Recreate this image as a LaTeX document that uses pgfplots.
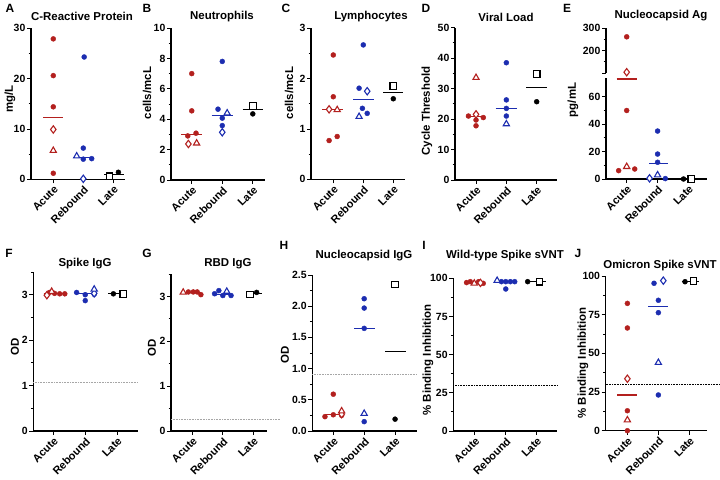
\documentclass[border=0pt]{standalone}
\usepackage{pgfplots}
\pgfplotsset{compat=1.18}
\usepackage{fontspec}
\setmainfont{Liberation Sans}
\definecolor{cR}{HTML}{B3201E}
\definecolor{cB}{HTML}{1C2DB0}
\newcommand{\tfont}{\bfseries\fontsize{11.5}{13}\selectfont}
\newcommand{\lfont}{\bfseries\fontsize{12}{14}\selectfont}

\pgfplotsset{
  panel/.style={scale only axis, clip=false, axis lines=left,
    axis line style={line width=1.1pt,-},
    every tick/.style={black,line width=0.9pt}, tick align=outside,
    major tick length=4pt, minor tick length=2.4pt, minor y tick num=1,
    xtick={1,2,3}, xticklabels={Acute,Rebound,Late},
    xticklabel style={rotate=45, anchor=north east, inner sep=1pt,
      font=\bfseries\fontsize{11}{12}\selectfont},
    yticklabel style={font=\bfseries\fontsize{10.5}{12}\selectfont, inner sep=1.5pt},
    /pgf/number format/assume math mode=true, anchor=south west},
  dot/.style={only marks, mark=*, mark size=2.5pt, color=#1},
  tri/.style={only marks, mark=triangle*, mark size=3.6pt, color=#1,
    mark options={fill=white, line width=1.1pt}},
  dia/.style={only marks, mark=diamond*, mark size=3.7pt, color=#1,
    mark options={fill=white, line width=1.1pt}},
  sq/.style={only marks, mark=square*, mark size=3.3pt, color=black,
    mark options={fill=white, line width=1.1pt}},
  med/.style={no marks, line width=1.2pt, color=#1},
  thr/.style={no marks, line width=0.7pt, color=#1, dash pattern=on 0.8pt off 0.8pt},
}

\begin{document}
\begin{tikzpicture}
\path[use as bounding box] (0,0) rectangle (720bp,-480bp);

% ---------- A: C-Reactive Protein
\begin{axis}[panel, at={(31bp,-179.3bp)}, width=94bp, height=151bp,
  xmin=0.257, xmax=3.39, ymin=0, ymax=30, ytick={0,10,20,30}]
\addplot[med=cR] coordinates {(0.67,12.2)(1.33,12.2)};
\addplot[med=cB] coordinates {(1.67,4.4)(2.36,4.4)};
\addplot[med=black] coordinates {(2.69,1.0)(3.36,1.0)};
\addplot[dot=cR] coordinates {(1,27.9)(1,20.6)(1,14.4)(1,1.2)};
\addplot[dia=cR] coordinates {(1,9.9)};
\addplot[tri=cR] coordinates {(1,5.7)};
\addplot[dot=cB] coordinates {(2.03,24.3)(2,6.2)(2,4.0)(2.28,4.1)};
\addplot[tri=cB] coordinates {(1.78,4.6)};
\addplot[dia=cB] coordinates {(2,0.1)};
\addplot[sq] coordinates {(2.87,0.6)};
\addplot[dot=black] coordinates {(3.17,1.4)};
\end{axis}

% ---------- B: Neutrophils
\begin{axis}[panel, at={(171bp,-180bp)}, width=94bp, height=152bp,
  xmin=0.32, xmax=3.40, ymin=0, ymax=10, ytick={0,2,4,6,8,10}]
\addplot[med=cR] coordinates {(0.65,3.0)(1.33,3.0)};
\addplot[med=cB] coordinates {(1.65,4.24)(2.34,4.24)};
\addplot[med=black] coordinates {(2.67,4.64)(3.33,4.64)};
\addplot[dot=cR] coordinates {(1,7.0)(1,4.55)(1.14,3.08)(0.87,2.9)};
\addplot[dia=cR] coordinates {(0.89,2.37)};
\addplot[tri=cR] coordinates {(1.16,2.42)};
\addplot[dot=cB] coordinates {(2,7.8)(1.86,4.66)(2,4.07)(2,3.58)};
\addplot[tri=cB] coordinates {(2.16,4.4)};
\addplot[dia=cB] coordinates {(2,3.14)};
\addplot[sq] coordinates {(3,4.88)};
\addplot[dot=black] coordinates {(3,4.35)};
\end{axis}

% ---------- C: Lymphocytes
\begin{axis}[panel, at={(311bp,-179.3bp)}, width=94bp, height=151bp,
  xmin=0.257, xmax=3.39, ymin=0, ymax=3, ytick={0,1,2,3}]
\addplot[med=cR] coordinates {(0.64,1.38)(1.33,1.38)};
\addplot[med=cB] coordinates {(1.67,1.58)(2.36,1.58)};
\addplot[med=black] coordinates {(2.67,1.72)(3.33,1.72)};
\addplot[dot=cR] coordinates {(1,2.47)(1,1.64)(1.13,0.85)(0.86,0.77)};
\addplot[dia=cR] coordinates {(0.86,1.39)};
\addplot[tri=cR] coordinates {(1.13,1.38)};
\addplot[dot=cB] coordinates {(2,2.67)(1.86,1.81)(1.97,1.41)(2.13,1.31)};
\addplot[dia=cB] coordinates {(2.13,1.75)};
\addplot[tri=cB] coordinates {(1.86,1.245)};
\addplot[sq] coordinates {(3,1.85)};
\addplot[dot=black] coordinates {(3,1.6)};
\end{axis}

% ---------- D: Viral Load
\begin{axis}[panel, at={(455bp,-180bp)}, width=102bp, height=152.3bp,
  xmin=0.307, xmax=3.67, ymin=0, ymax=50, ytick={0,10,20,30,40,50}]
\addplot[med=cR] coordinates {(0.75,20.8)(1.27,20.8)};
\addplot[med=cB] coordinates {(1.65,23.5)(2.35,23.5)};
\addplot[med=black] coordinates {(2.65,30.3)(3.35,30.3)};
\addplot[tri=cR] coordinates {(1,33.6)};
\addplot[dot=cR] coordinates {(0.75,21.0)(1.24,20.5)(1,19.7)(1,17.8)};
\addplot[dia=cR] coordinates {(1,21.55)};
\addplot[dot=cB] coordinates {(2,38.5)(2,26.3)(2,23.5)(2,21.0)};
\addplot[tri=cB] coordinates {(2,18.4)};
\addplot[sq] coordinates {(3,34.8)};
\addplot[dot=black] coordinates {(3,25.7)};
\end{axis}

% ---------- E: Nucleocapsid Ag (broken axis)
\begin{axis}[panel, at={(606bp,-179bp)}, width=101bp, height=101.4bp,
  xmin=0.33, xmax=3.6, ymin=0, ymax=74, ytick={0,20,40,60}]
\addplot[med=cR] coordinates {(0.67,73)(1.33,73)};
\addplot[med=cB] coordinates {(1.73,11.4)(2.33,11.4)};
\addplot[med=black] coordinates {(2.7,0)(3.3,0)};
\addplot[dot=cR] coordinates {(0.74,6.1)(1.26,7.3)(1,50)};
\addplot[tri=cR] coordinates {(1,9.0)};
\addplot[dot=cB] coordinates {(2,35.0)(2,18.2)(2,12.2)(2.25,0.3)};
\addplot[tri=cB] coordinates {(2,2.9)};
\addplot[dia=cB] coordinates {(1.74,0.5)};
\addplot[dot=black] coordinates {(2.84,0)};
\addplot[sq] coordinates {(3.09,0)};
\end{axis}
\begin{axis}[panel, at={(606bp,-73.1bp)}, width=101bp, height=44.8bp,
  axis x line=none, xmin=0.33, xmax=3.6, ymin=100, ymax=300,
  ytick={100,200,300}, yticklabels={,200,300}]
\addplot[dot=cR] coordinates {(1,262)};
\addplot[dia=cR] coordinates {(1,104)};
\end{axis}

% ---------- F: Spike IgG
\begin{axis}[panel, at={(33.3bp,-431bp)}, width=104.7bp, height=159bp,
  xmin=0.375, xmax=3.65, ymin=0, ymax=3.5, ytick={0,1,2,3},
  minor ytick={0.5,1.5,2.5,3.5}]
\addplot[thr=gray!70] coordinates {(0.375,1.07)(3.65,1.07)};
\addplot[med=cR] coordinates {(0.7,3.02)(1.4,3.02)};
\addplot[med=cB] coordinates {(1.7,3.02)(2.3,3.02)};
\addplot[med=black] coordinates {(2.72,3.02)(3.3,3.02)};
\addplot[dot=cR] coordinates {(0.88,3.05)(1.04,3.03)(1.2,3.02)(1.36,3.02)};
\addplot[dia=cR] coordinates {(0.8,2.99)};
\addplot[tri=cR] coordinates {(0.95,3.07)};
\addplot[dot=cB] coordinates {(1.73,3.05)(2,3.0)(2,2.87)(2.28,3.01)};
\addplot[dia=cB] coordinates {(2.28,3.03)};
\addplot[tri=cB] coordinates {(2.28,3.12)};
\addplot[dot=black] coordinates {(2.88,3.02)};
\addplot[sq] coordinates {(3.19,3.02)};
\end{axis}

% ---------- G: RBD IgG
\begin{axis}[panel, at={(171bp,-431bp)}, width=95.7bp, height=157bp,
  xmin=0.30, xmax=3.44, ymin=0, ymax=3.5, ytick={0,1,2,3},
  minor ytick={0.5,1.5,2.5,3.5}]
\addplot[thr=gray!70] coordinates {(0.30,0.27)(3.9,0.27)};
\addplot[med=cR] coordinates {(0.7,3.08)(1.3,3.08)};
\addplot[med=cB] coordinates {(1.7,3.05)(2.3,3.05)};
\addplot[med=black] coordinates {(2.78,3.06)(3.28,3.06)};
\addplot[tri=cR] coordinates {(0.7,3.09)};
\addplot[dot=cR] coordinates {(0.87,3.1)(1.03,3.1)(1.16,3.1)(1.28,3.04)};
\addplot[dot=cB] coordinates {(1.73,3.06)(1.87,3.13)(2,3.02)(2.27,3.02)};
\addplot[tri=cB] coordinates {(2.13,3.11)};
\addplot[sq] coordinates {(2.89,3.04)};
\addplot[dot=black] coordinates {(3.11,3.09)};
\end{axis}

% ---------- H: Nucleocapsid IgG
\begin{axis}[panel, at={(312.3bp,-431bp)}, width=104.7bp, height=156bp,
  xmin=0.32, xmax=3.71, ymin=0, ymax=2.5, ytick={0,0.5,1,1.5,2,2.5},
  yticklabel style={/pgf/number format/.cd, fixed, fixed zerofill, precision=1}]
\addplot[thr=gray!70] coordinates {(0.32,0.91)(3.71,0.91)};
\addplot[med=cR] coordinates {(0.73,0.26)(1.27,0.26)};
\addplot[med=cB] coordinates {(1.68,1.645)(2.36,1.645)};
\addplot[med=black] coordinates {(2.68,1.27)(3.36,1.27)};
\addplot[dot=cR] coordinates {(1,0.59)(0.73,0.23)(1,0.26)(1.27,0.25)};
\addplot[dia=cR] coordinates {(1.27,0.27)};
\addplot[tri=cR] coordinates {(1.27,0.32)};
\addplot[dot=cB] coordinates {(2,2.12)(2,1.97)(2,1.645)(2,0.15)};
\addplot[tri=cB] coordinates {(2,0.28)};
\addplot[sq] coordinates {(3,2.35)};
\addplot[dot=black] coordinates {(3,0.19)};
\end{axis}

% ---------- I: Wild-type Spike sVNT
\begin{axis}[panel, at={(453.3bp,-431bp)}, width=104bp, height=152.7bp,
  xmin=0.30, xmax=3.67, ymin=0, ymax=100, ytick={0,25,50,75,100}]
\addplot[thr=black] coordinates {(0.30,30)(3.67,30)};
\addplot[med=cR] coordinates {(0.7,97.2)(1.3,97.2)};
\addplot[med=cB] coordinates {(1.7,97.8)(2.3,97.8)};
\addplot[med=black] coordinates {(2.7,97.8)(3.3,97.8)};
\addplot[dot=cR] coordinates {(0.73,97.2)(0.85,97.8)(1.12,97.8)(1.27,96.7)};
\addplot[tri=cR] coordinates {(0.98,96.7)};
\addplot[dia=cR] coordinates {(1.18,97.0)};
\addplot[dot=cB] coordinates {(1.86,97.8)(2,97.8)(2.15,97.8)(2.29,97.8)(2,93)};
\addplot[tri=cB] coordinates {(1.72,98.5)};
\addplot[dot=black] coordinates {(2.71,97.8)};
\addplot[sq] coordinates {(3.09,97.8)};
\end{axis}

% ---------- J: Omicron Spike sVNT
\begin{axis}[panel, at={(605.7bp,-430.7bp)}, width=101.3bp, height=154.7bp,
  xmin=0.30, xmax=3.57, ymin=0, ymax=100, ytick={0,25,50,75,100}]
\addplot[thr=black] coordinates {(0.30,30)(4.0,30)};
\addplot[med=cR] coordinates {(0.68,23.1)(1.32,23.1)};
\addplot[med=cB] coordinates {(1.68,80.2)(2.32,80.2)};
\addplot[med=black] coordinates {(2.75,96.5)(3.3,96.5)};
\addplot[dot=cR] coordinates {(1,82.3)(1,66.4)(1,12.9)(1,0)};
\addplot[dia=cR] coordinates {(1,33.6)};
\addplot[tri=cR] coordinates {(1,6.9)};
\addplot[dot=cB] coordinates {(1.86,95.3)(2,84.3)(2,76.3)(2,23.1)};
\addplot[dia=cB] coordinates {(2.16,97.0)};
\addplot[tri=cB] coordinates {(2,44)};
\addplot[dot=black] coordinates {(2.86,96.3)};
\addplot[sq] coordinates {(3.13,96.8)};
\end{axis}

% ---------- panel letters
\begin{scope}[every node/.style={font=\lfont}]
\node at (10bp,-8bp) {A};
\node at (147bp,-8bp) {B};
\node at (286bp,-8bp) {C};
\node at (426bp,-8bp) {D};
\node at (567bp,-8bp) {E};
\node at (9bp,-253bp) {F};
\node at (147bp,-253bp) {G};
\node at (284bp,-245bp) {H};
\node at (424bp,-245bp) {I};
\node at (578bp,-253bp) {J};
\end{scope}

% ---------- titles
\begin{scope}[every node/.style={font=\tfont}]
\node at (82bp,-16bp) {C-Reactive Protein};
\node at (222bp,-17bp) {Neutrophils};
\node at (371bp,-17bp) {Lymphocytes};
\node at (506bp,-17bp) {Viral Load};
\node at (661bp,-16bp) {Nucleocapsid Ag};
\node at (85bp,-264bp) {Spike IgG};
\node at (228bp,-264bp) {RBD IgG};
\node at (364bp,-256bp) {Nucleocapsid IgG};
\node at (505bp,-256bp) {Wild-type Spike sVNT};
\node at (660bp,-266bp) {Omicron Spike sVNT};
\end{scope}

% ---------- y labels
\begin{scope}[every node/.style={font=\tfont, rotate=90}]
\node at (10bp,-99bp) {mg/L};
\node at (147bp,-93bp) {cells/mcL};
\node at (289bp,-93bp) {cells/mcL};
\node at (427bp,-111bp) {Cycle Threshold};
\node at (573bp,-100bp) {pg/mL};
\node at (15bp,-347bp) {OD};
\node at (152bp,-348bp) {OD};
\node at (285bp,-355bp) {OD};
\node at (428bp,-360bp) {\% Binding Inhibition};
\node at (583bp,-363bp) {\% Binding Inhibition};
\end{scope}
\end{tikzpicture}
\end{document}
